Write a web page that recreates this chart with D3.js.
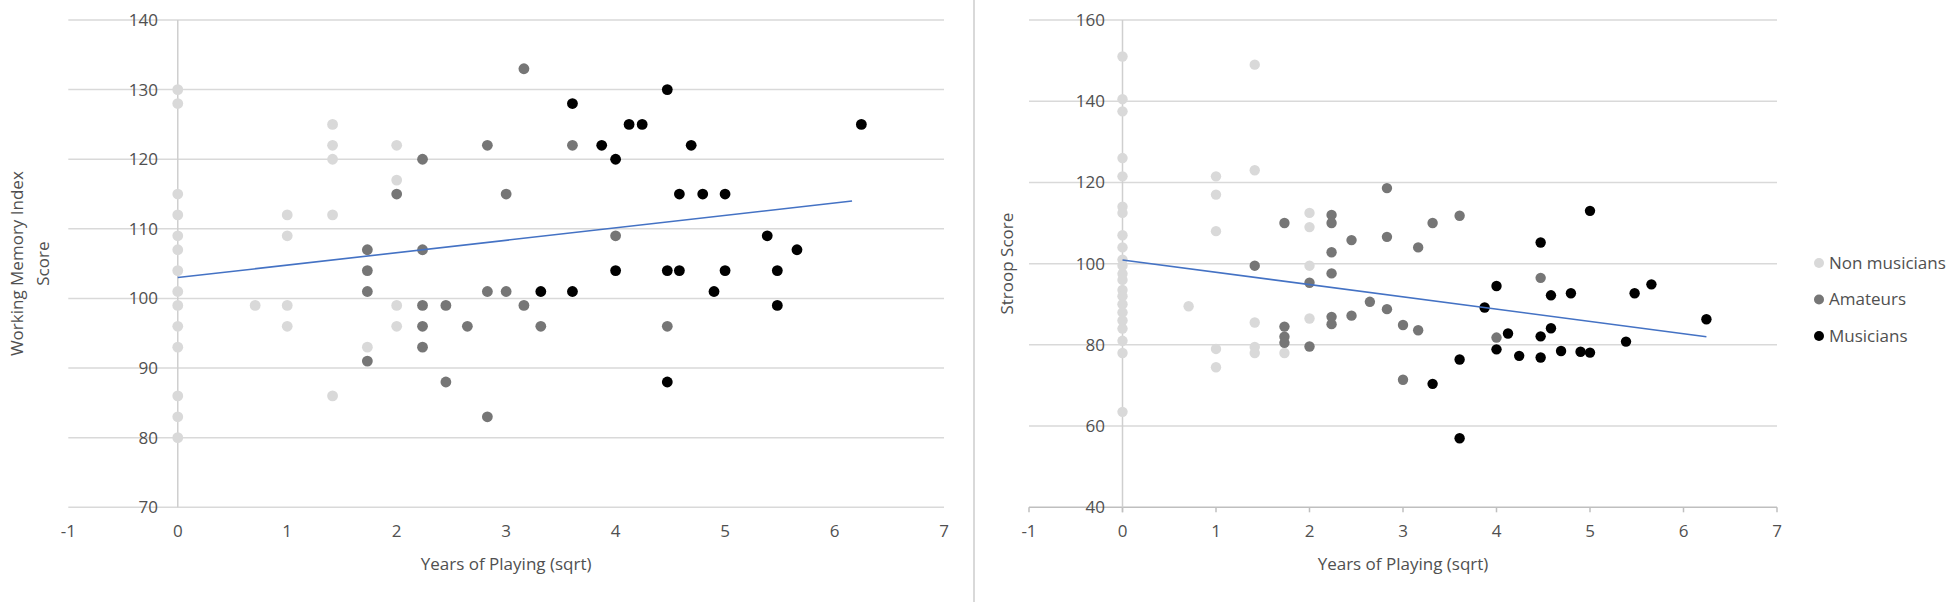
<!DOCTYPE html>
<html>
<head>
<meta charset="utf-8">
<script src="https://cdn.jsdelivr.net/npm/d3@7"></script>
<style>
  html, body { margin: 0; padding: 0; background: #fff; }
  svg { display: block; font-family: "Open Sans", "Noto Sans", sans-serif; }
</style>
</head>
<body>
<svg id="chart" width="1950" height="604"></svg>
<script>
// ---------------- DATA ----------------
// [years of playing, score]; x axis shows sqrt(years)
const seriesNames = ["Non musicians", "Amateurs", "Musicians"];
const seriesColors = ["#d9d9d9", "#767676", "#000000"];

const xTicks = [-1, 0, 1, 2, 3, 4, 5, 6, 7];
const wmTicks = [70, 80, 90, 100, 110, 120, 130, 140];
const stroopTicks = [40, 60, 80, 100, 120, 140, 160];

const wmNonMusicians = [
  [0,130],[0,128],[0,115],[0,112],[0,109],[0,107],[0,104],[0,101],[0,99],[0,96],[0,93],[0,86],[0,83],[0,80],
  [0.5,99],
  [1,112],[1,109],[1,99],[1,96],
  [2,125],[2,122],[2,120],[2,112],[2,86],
  [3,93],
  [4,122],[4,117],[4,99],[4,96]
];
const wmAmateurs = [
  [3,107],[3,104],[3,101],[3,91],
  [4,115],
  [5,120],[5,107],[5,99],[5,96],[5,93],
  [6,99],[6,88],
  [7,96],
  [8,122],[8,101],[8,83],
  [9,115],[9,101],
  [10,133],[10,99],
  [11,96],
  [13,122],
  [16,109],
  [20,96]
];
const wmMusicians = [
  [11,101],
  [13,128],[13,101],
  [15,122],
  [16,120],[16,104],
  [17,125],
  [18,125],
  [20,130],[20,104],[20,88],
  [21,115],[21,104],
  [22,122],
  [23,115],
  [24,101],
  [25,115],[25,104],
  [29,109],
  [30,104],[30,99],
  [32,107],
  [39,125]
];
const wmTrend = [[0,103.0],[6.16,114.0]]; // [sqrt years, score]

const stroopNonMusicians = [
  [0,151],[0,140.5],[0,137.5],[0,126],[0,121.5],[0,114],[0,112.5],[0,107],[0,104],[0,101],[0,99.5],
  [0,97.5],[0,96],[0,93.5],[0,92],[0,90],[0,88],[0,86],[0,84],[0,81],[0,78],[0,63.5],
  [0.5,89.5],
  [1,121.5],[1,117],[1,108],[1,79],[1,74.5],
  [2,149],[2,123],[2,85.5],[2,79.5],[2,78],
  [3,78],
  [4,112.5],[4,109],[4,99.5],[4,86.5]
];
const stroopAmateurs = [
  [2,99.5],
  [3,110],[3,84.5],[3,82],[3,80.5],
  [4,95.3],[4,79.6],
  [5,112],[5,110],[5,102.8],[5,97.6],[5,86.9],[5,85.1],
  [6,105.8],[6,87.2],
  [7,90.6],
  [8,118.6],[8,106.6],[8,88.8],
  [9,84.9],[9,71.4],
  [10,104],[10,83.6],
  [11,110],
  [13,111.8],
  [16,81.8],
  [20,96.5]
];
const stroopMusicians = [
  [11,70.4],
  [13,76.4],[13,57],
  [15,89.2],
  [16,94.5],[16,78.9],
  [17,82.8],
  [18,77.3],
  [20,105.2],[20,82.1],[20,76.9],
  [21,92.2],[21,84.1],
  [22,78.5],
  [23,92.7],
  [24,78.3],
  [25,113],[25,78.1],
  [29,80.8],
  [30,92.7],
  [32,94.9],
  [39,86.3]
];
const stroopTrend = [[0,100.9],[6.245,82.0]];

// ---------------- DRAW ----------------
const svg = d3.select("#chart");
const textColor = "#505050";
const gridColor = "#d9d9d9";
const fontSize = 17;

function panel(opts) {
  const g = svg.append("g");
  const x = d3.scaleLinear().domain([-1, 7]).range(opts.xRange);
  const y = d3.scaleLinear().domain(opts.yDomain).range(opts.yRange);

  // gridlines
  g.append("g").selectAll("line").data(opts.yTicks).join("line")
    .attr("x1", x(-1)).attr("x2", x(7))
    .attr("y1", d => y(d)).attr("y2", d => y(d))
    .attr("stroke", (d, i) => (opts.bottomAxis && i === 0) ? "#bfbfbf" : gridColor)
    .attr("stroke-width", 1.5);

  // vertical axis at x = 0
  g.append("line")
    .attr("x1", x(0)).attr("x2", x(0))
    .attr("y1", y(opts.yDomain[1])).attr("y2", y(opts.yDomain[0]) + (opts.bottomAxis ? 5 : 0))
    .attr("stroke", "#cfcfcf").attr("stroke-width", 1.5);

  // x tick marks (bottom axis) for right panel
  if (opts.bottomAxis) {
    g.append("g").selectAll("line").data(xTicks).join("line")
      .attr("x1", d => x(d)).attr("x2", d => x(d))
      .attr("y1", y(opts.yDomain[0])).attr("y2", y(opts.yDomain[0]) + 5)
      .attr("stroke", "#bfbfbf").attr("stroke-width", 1.5);
  }

  // y tick labels
  g.append("g").selectAll("text").data(opts.yTicks).join("text")
    .attr("x", opts.yLabelX).attr("y", d => y(d))
    .attr("dy", "0.35em").attr("text-anchor", "end")
    .attr("font-size", fontSize).attr("fill", textColor)
    .text(d => d);

  // x tick labels
  g.append("g").selectAll("text").data(xTicks).join("text")
    .attr("x", d => x(d)).attr("y", 531)
    .attr("dy", "0.35em").attr("text-anchor", "middle")
    .attr("font-size", fontSize).attr("fill", textColor)
    .text(d => d);

  // x title
  g.append("text")
    .attr("x", (x(-1) + x(7)) / 2).attr("y", 564).attr("dy", "0.35em")
    .attr("text-anchor", "middle").attr("font-size", fontSize).attr("fill", textColor)
    .text("Years of Playing (sqrt)");

  // y title
  const yMid = (y(opts.yDomain[0]) + y(opts.yDomain[1])) / 2;
  opts.yTitle.forEach((line, i) => {
    const tx = opts.yTitleX[i];
    g.append("text")
      .attr("transform", `translate(${tx},${yMid}) rotate(-90)`)
      .attr("dy", "0.35em").attr("text-anchor", "middle")
      .attr("font-size", fontSize).attr("fill", textColor)
      .text(line);
  });

  // points
  opts.series.forEach((data, si) => {
    g.append("g").selectAll("circle").data(data).join("circle")
      .attr("cx", d => x(Math.sqrt(d[0])))
      .attr("cy", d => y(d[1]))
      .attr("r", opts.r)
      .attr("fill", seriesColors[si]);
  });

  // trendline
  g.append("path")
    .datum(opts.trend)
    .attr("d", d3.line().x(d => x(d[0])).y(d => y(d[1])))
    .attr("fill", "none").attr("stroke", "#4472c4").attr("stroke-width", 1.6);
}

panel({
  xRange: [68.3, 944], yDomain: [70, 140], yRange: [507.3, 20], yTicks: wmTicks,
  yLabelX: 158, yTitle: ["Working Memory Index", "Score"], yTitleX: [17, 43],
  series: [wmNonMusicians, wmAmateurs, wmMusicians], trend: wmTrend, r: 5.4, bottomAxis: false
});

panel({
  xRange: [1029, 1777], yDomain: [40, 160], yRange: [507.3, 20], yTicks: stroopTicks,
  yLabelX: 1105, yTitle: ["Stroop Score"], yTitleX: [1007],
  series: [stroopNonMusicians, stroopAmateurs, stroopMusicians], trend: stroopTrend, r: 5.2, bottomAxis: true
});

// separator between panels
svg.append("line")
  .attr("x1", 974).attr("x2", 974).attr("y1", 0).attr("y2", 602)
  .attr("stroke", "#d9d9d9").attr("stroke-width", 2);

// legend
const legend = svg.append("g").selectAll("g").data(seriesNames).join("g")
  .attr("transform", (d, i) => `translate(1819,${263 + i * 36.5})`);
legend.append("circle").attr("r", 5).attr("fill", (d, i) => seriesColors[i]);
legend.append("text").attr("x", 10).attr("dy", "0.35em")
  .attr("font-size", fontSize).attr("fill", textColor).text(d => d);
</script>
</body>
</html>
